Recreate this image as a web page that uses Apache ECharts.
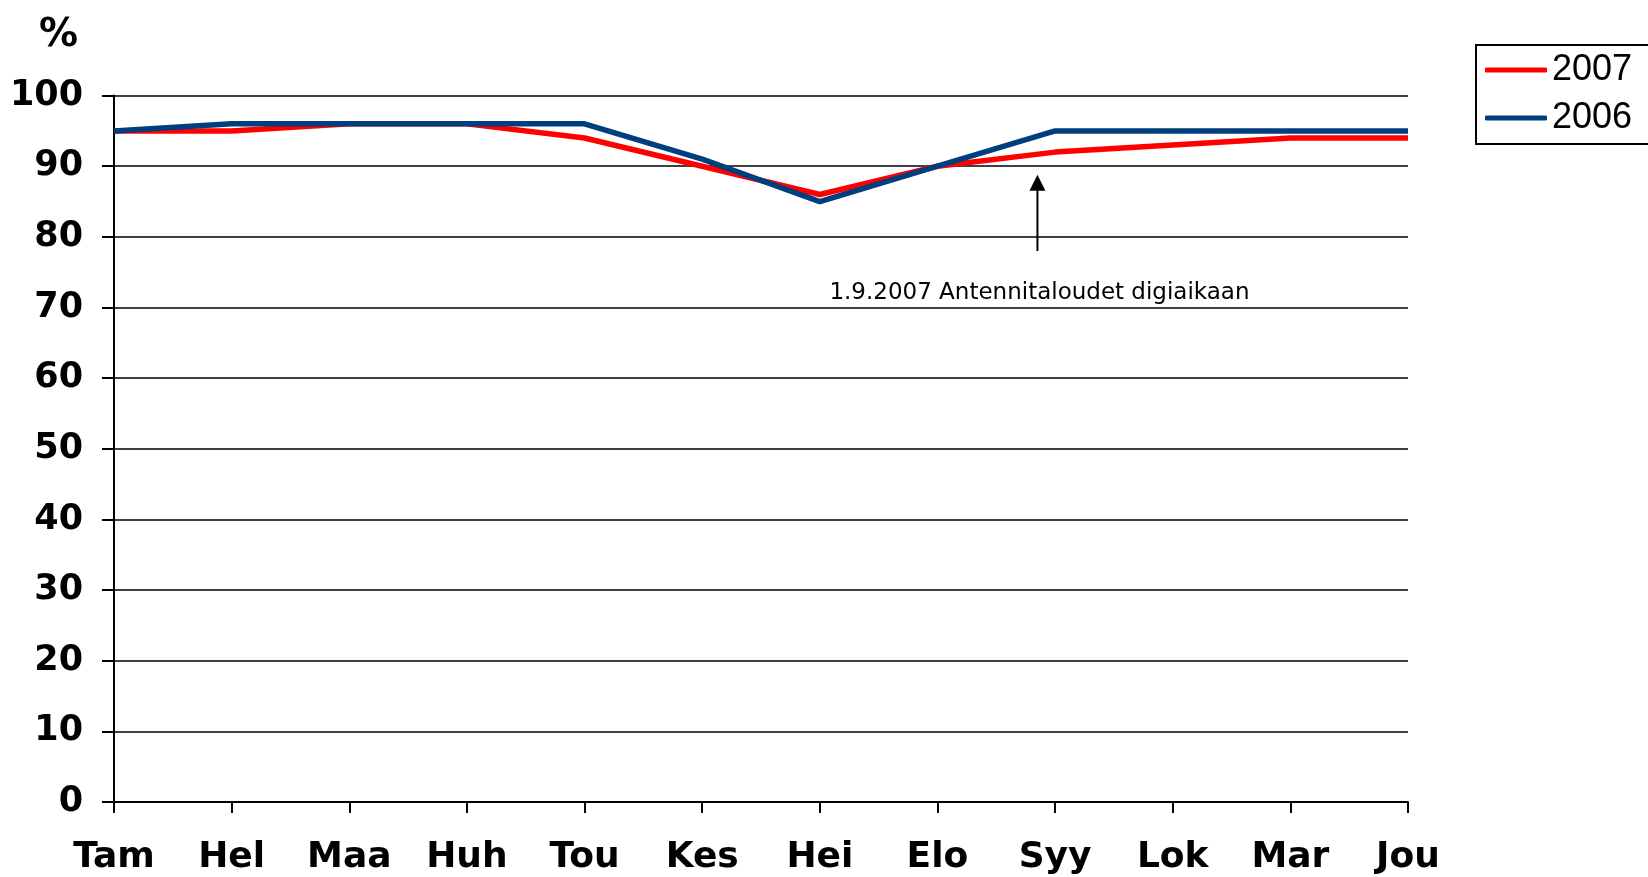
<!DOCTYPE html>
<html>
<head>
<meta charset="utf-8">
<style>
html, body { margin: 0; padding: 0; background: #fff; }
#container { width: 1648px; height: 877px; }
</style>
<title>Antennitaloudet</title>
</head>
<body>
<div id="container"></div>
<script src="https://cdn.jsdelivr.net/npm/echarts@6/dist/echarts.min.js"></script>
<script type="text/javascript">
// months
var months = ['Tam', 'Hel', 'Maa', 'Huh', 'Tou', 'Kes', 'Hei', 'Elo', 'Syy', 'Lok', 'Mar', 'Jou'];
var values2007 = [95, 95, 96, 96, 94, 90, 86, 90, 92, 93, 94, 94];
var values2006 = [95, 96, 96, 96, 96, 91, 85, 90, 95, 95, 95, 95];
// note: between Elo and Syy, arrow from/to value, text at value
var noteText = '1.9.2007 Antennitaloudet digiaikaan';
var noteAfter = 'Elo', noteFrac = 0.85;
var noteFrom = 78, noteTo = 88.8, noteTextAt = 72.2;

var font = '"Liberation Sans", Arial, sans-serif';
var wide = '"DejaVu Sans", Verdana, sans-serif';
var container = document.getElementById('container');
var myChart = echarts.init(container);

var option = {
	animation: false,
	title: {
		text: '%',
		left: 34,
		top: 11,
		textStyle: { fontFamily: wide, fontSize: 39, fontWeight: 'bold', color: '#000' }
	},
	legend: {
		data: ['2007', '2006'],
		orient: 'vertical',
		left: 1476,
		top: 45,
		padding: [5, 20, 6, 9],
		itemGap: 8,
		itemWidth: 62,
		itemHeight: 5,
		icon: 'roundRect',
		borderColor: '#000',
		borderWidth: 2,
		borderRadius: 0,
		textStyle: { fontFamily: font, fontSize: 36, color: '#000', lineHeight: 40 }
	},
	grid: { left: 114, right: 240, top: 95.6, bottom: 75, containLabel: false },
	xAxis: {
		type: 'category',
		data: months,
		boundaryGap: false,
		axisLine: { lineStyle: { color: '#000', width: 2 } },
		axisTick: { show: true, length: 11, lineStyle: { color: '#000', width: 2 } },
		axisLabel: { margin: 38, fontFamily: wide, fontSize: 36, fontWeight: 'bold', color: '#000' },
		splitLine: { show: false }
	},
	yAxis: {
		type: 'value',
		min: 0,
		max: 100,
		interval: 10,
		axisLine: { show: true, lineStyle: { color: '#000', width: 2 } },
		axisTick: { show: true, length: 12, lineStyle: { color: '#000', width: 2 } },
		axisLabel: { margin: 31, fontFamily: wide, fontSize: 35, fontWeight: 'bold', color: '#000' },
		splitLine: { show: true, lineStyle: { color: '#000', width: 1.5 } }
	},
	series: [
		{
			name: '2007',
			type: 'line',
			data: values2007,
			symbol: 'none',
			lineStyle: { color: '#FF0000', width: 5.5 },
			itemStyle: { color: '#FF0000' },
			z: 3
		},
		{
			name: '2006',
			type: 'line',
			data: values2006,
			symbol: 'none',
			lineStyle: { color: '#003F7D', width: 5.5 },
			itemStyle: { color: '#003F7D' },
			z: 4
		}
	]
};
myChart.setOption(option, true);

// annotation arrow + text, placed through the axes
var i0 = months.indexOf(noteAfter);
var pA = myChart.convertToPixel({ gridIndex: 0 }, [i0, noteFrom]);
var pB = myChart.convertToPixel({ gridIndex: 0 }, [i0 + 1, noteTo]);
var ax = pA[0] + (pB[0] - pA[0]) * noteFrac;
var yBottom = pA[1];
var yTip = pB[1];
var yText = myChart.convertToPixel({ gridIndex: 0 }, [i0, noteTextAt])[1];
var headLen = 16, headHalf = 8;
myChart.setOption({
	graphic: [
		{
			type: 'line',
			shape: { x1: ax, y1: yBottom, x2: ax, y2: yTip + headLen - 1 },
			style: { stroke: '#000', lineWidth: 2 },
			z: 10
		},
		{
			type: 'polygon',
			shape: { points: [[ax, yTip], [ax - headHalf, yTip + headLen], [ax + headHalf, yTip + headLen]] },
			style: { fill: '#000' },
			z: 10
		},
		{
			type: 'text',
			x: ax + 2,
			y: yText + 1,
			style: {
				text: noteText,
				fontFamily: wide,
				fontSize: 23,
				fill: '#000',
				align: 'center',
				verticalAlign: 'middle'
			},
			z: 10
		}
	]
});
</script>
</body>
</html>
